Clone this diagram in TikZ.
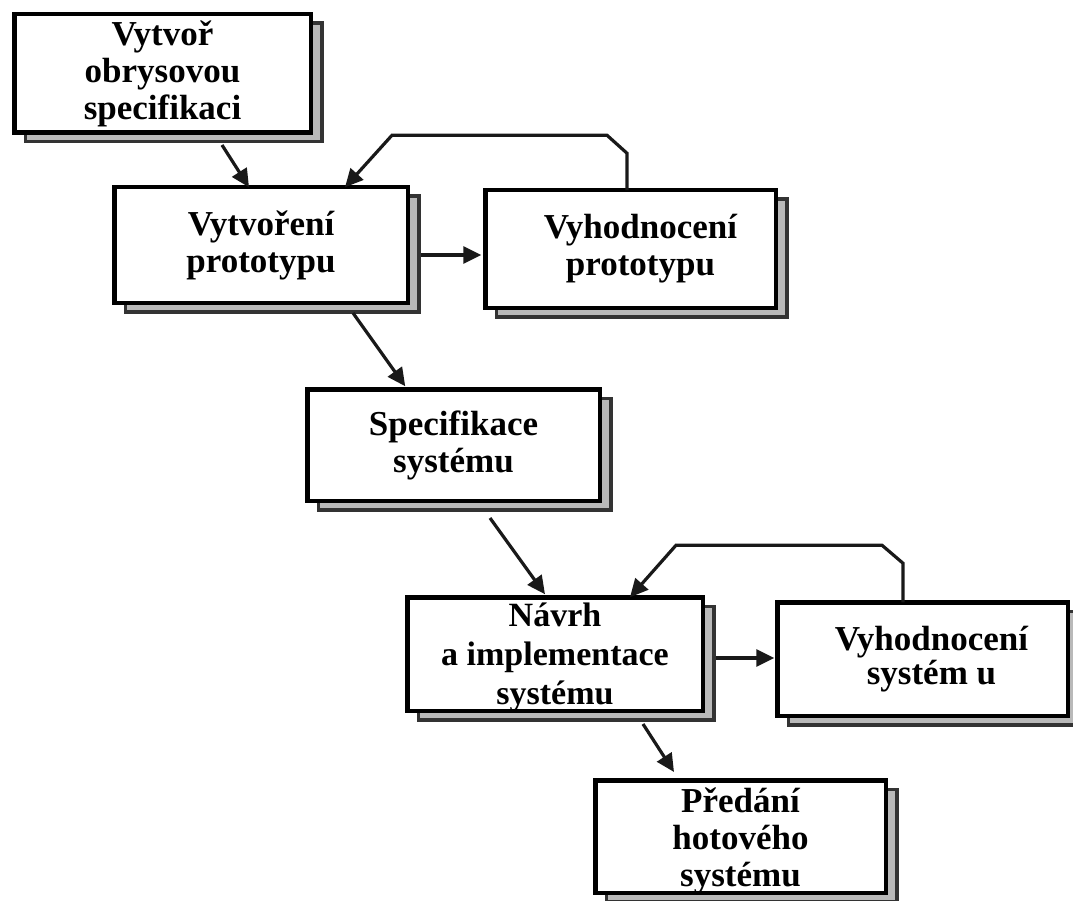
\documentclass[tikz,border=0pt]{standalone}
\usepackage{fontspec}
\setmainfont{Liberation Serif}
\usetikzlibrary{arrows.meta,backgrounds}

\tikzset{
  box/.style={draw=black, fill=white, line width=4.5pt, rectangle,
    inner sep=0pt, outer sep=0pt, align=center,
    font=\bfseries\fontsize{35}{37}\selectfont},
  boxtext/.style={inner sep=0pt, align=center,
    font=\bfseries\fontsize{35}{37}\selectfont},
  boxshadow/.style={draw=black!80, fill=gray!55, line width=3.5pt},
  arr/.style={line width=3.2pt, draw=black!90, line join=miter,
    -{Triangle[length=18pt,width=17pt]}},
}

% drop shadow: the box outline repeated, offset to the lower right
\newcommand{\boxshade}[1]{%
  \draw[boxshadow] ([shift={(11,9)}]#1.south west) rectangle ([shift={(11,9)}]#1.north east);}

\begin{document}
\begin{tikzpicture}[x=1pt,y=-1pt]
\useasboundingbox (0,0) rectangle (1073,901);

% process steps
\node[box, minimum width=296.5pt, minimum height=118.5pt] (b1) at (162.5,73.5)
  {Vytvoř\\obrysovou\\specifikaci};
\node[box, minimum width=293.5pt, minimum height=115.5pt] (b2) at (261,245)
  {Vytvoření\\prototypu};
\node[box, minimum width=290.5pt, minimum height=117.5pt] (b3) at (630.5,249)
  {\hspace*{20pt}Vyhodnocení\\\hspace*{20pt}prototypu};
\node[box, minimum width=292.5pt, minimum height=111.5pt] (b4) at (453.5,445)
  {Specifikace\\systému};
\node[box, minimum width=295.5pt, minimum height=113.5pt] (b5) at (555,654) {};
\node[boxtext, font=\bfseries\fontsize{34}{39}\selectfont] (b5text)
  at ([yshift=-3pt]b5.center) {Návrh\\a implementace\\systému};
\node[box, minimum width=290.5pt, minimum height=113.5pt,
      font=\bfseries\fontsize{35}{34}\selectfont] (b6) at (922.5,659)
  {\hspace*{18pt}Vyhodnocení\\\hspace*{18pt}systém u};
\node[box, minimum width=290.5pt, minimum height=112.5pt] (b7) at (740.5,836.5) {};
\node[boxtext] (b7text) at ([yshift=-4pt]b7.center) {Předání\\hotového\\systému};

% shadows behind the boxes
\begin{scope}[on background layer]
  \foreach \b in {b1,b2,b3,b4,b5,b6,b7} {\boxshade{\b}}
\end{scope}

% forward flow
\draw[arr] ([shift={(207.75,12.25)}]b1.south west) -- ([xshift=134.75]b2.north west);
\draw[arr] ([shift={(13.5,10)}]b2.east) -- ([shift={(-4,6)}]b3.west);
\draw[arr] ([shift={(238.75,10.25)}]b2.south west) -- ([shift={(98,-3)}]b4.north west);
\draw[arr] ([shift={(182.75,17.25)}]b4.south west) -- ([shift={(137.75,-3)}]b5.north west);
\draw[arr] ([shift={(13,4)}]b5.east) -- ([shift={(-3,-1)}]b6.west);
\draw[arr] ([shift={(235.75,13.25)}]b5.south west) -- ([shift={(78.75,-8.25)}]b7.north west);

% feedback loops from the evaluations
\draw[arr] ([xshift=-3.5]b3.north) -- ++(0,-37) -- ++(-20,-18) -- ++(-215,0)
  -- ([xshift=230.75]b2.north west);
\draw[arr] ([xshift=-19.5]b6.north) -- ++(0,-39) -- ++(-21,-18) -- ++(-206,0)
  -- ([xshift=222.75]b5.north west);
\end{tikzpicture}
\end{document}
